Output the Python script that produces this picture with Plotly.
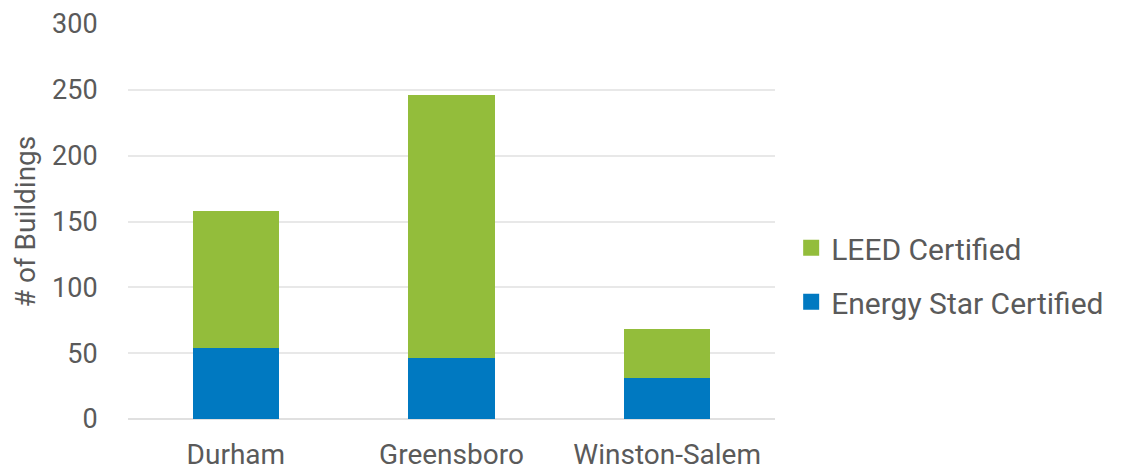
import plotly.graph_objects as go

cities = ["Durham", "Greensboro", "Winston-Salem"]
energy_star = [54, 46, 31]
leed = [104, 200, 37]
y_ticks = [0, 50, 100, 150, 200, 250, 300]

font_family = "Roboto"
text_color = "#5a5a5a"
blue = "#0079c1"
green = "#93bd3b"

fig = go.Figure()
fig.add_trace(go.Bar(x=cities, y=energy_star, name="Energy Star Certified",
                     marker=dict(color=blue, line=dict(width=0)),
                     showlegend=False))
fig.add_trace(go.Bar(x=cities, y=leed, name="LEED Certified",
                     marker=dict(color=green, line=dict(width=0)),
                     showlegend=False))
# legend-only entries with larger square swatches
fig.add_trace(go.Scatter(x=[None], y=[None], mode="markers", name="LEED Certified",
                         marker=dict(symbol="square", size=16, color=green),
                         legendgroup="a", legendrank=1))
fig.add_trace(go.Scatter(x=[None], y=[None], mode="markers", name="Energy Star Certified",
                         marker=dict(symbol="square", size=16, color=blue),
                         legendgroup="b", legendrank=2))

fig.update_layout(
    barmode="stack",
    bargap=0.6,
    width=1121, height=473,
    margin=dict(l=128, r=341, t=24, b=54, pad=0),
    plot_bgcolor="white", paper_bgcolor="white",
    font=dict(family=font_family, color=text_color, size=28),
    showlegend=True,
    legend=dict(x=1.025, xanchor="left", y=0.365, yanchor="middle",
                traceorder="grouped", tracegroupgap=12,
                font=dict(size=30, color=text_color)),
    xaxis=dict(showgrid=False, showline=False, zeroline=False, automargin=False,
               ticks="outside", ticklen=10, tickcolor="rgba(0,0,0,0)",
               tickfont=dict(size=28, color=text_color)),
    yaxis=dict(range=[0, 300], tickvals=y_ticks, showgrid=True, automargin=False,
               gridcolor="#e8e8e8", gridwidth=1.5,
               zeroline=True, zerolinecolor="#e0e0e0", zerolinewidth=1.5,
               showline=False,
               ticks="outside", ticklen=24, tickcolor="rgba(0,0,0,0)",
               tickfont=dict(size=27, color=text_color),
               title=dict(text="# of Buildings", standoff=8,
                          font=dict(size=28, color=text_color))),
)

fig.write_html("out.html")
